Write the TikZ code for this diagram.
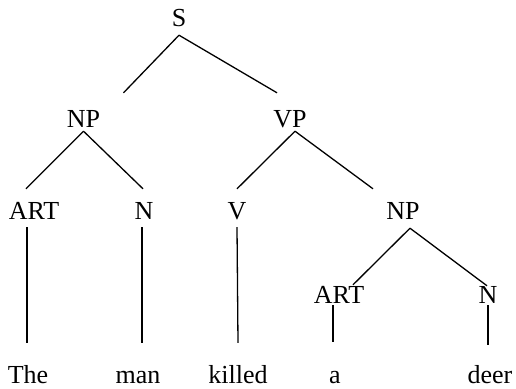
\documentclass[tikz,border=0pt]{standalone}
\usepackage{fontspec}
\setmainfont{Liberation Serif}
\usetikzlibrary{positioning}

\begin{document}
\begin{tikzpicture}[
    x=1pt, y=-1pt,
    cat/.style={inner sep=0pt, anchor=base, text height=17pt, text depth=0pt, font=\fontsize{26}{31}\selectfont},
    word/.style={cat},
    branch/.style={line width=1.3pt},
]
\useasboundingbox (0,0) rectangle (516,388);

% Nodes
\node[cat] (s) at (179,26) {S};
\node[cat] (np) at (83.5,127) {NP};
\node[cat] (vp) at (290,127) {VP};
\node[cat] (art) at (34,219) {ART};
\node[cat] (n) at (144,219) {N};
\node[cat] (v) at (237,219) {V};
\node[cat] (np2) at (403,219) {NP};
\node[cat] (art2) at (339,303) {ART};
\node[cat] (n2) at (488,303) {N};

% Words
\node[word] (the) at (28,383) {The};
\node[word] (man) at (138,383) {man};
\node[word] (killed) at (238,383) {killed};
\node[word] (a) at (335,383) {a};
\node[word] (deer) at (490,383) {deer};

% Branches
\draw[branch] ([yshift=-9pt]s.south) -- ([xshift=40pt,yshift=17pt]np.north);
\draw[branch] ([yshift=-9pt]s.south) -- ([xshift=-13pt,yshift=17pt]vp.north);
\draw[branch] ([yshift=-4pt]np.south) -- ([xshift=-8pt,yshift=13pt]art.north);
\draw[branch] ([yshift=-4pt]np.south) -- ([xshift=-1pt,yshift=13pt]n.north);
\draw[branch] ([xshift=5pt,yshift=-4pt]vp.south) -- ([yshift=13pt]v.north);
\draw[branch] ([xshift=5pt,yshift=-4pt]vp.south) -- ([xshift=-30pt,yshift=13pt]np2.north);
\draw[branch] ([xshift=7pt,yshift=-9pt]np2.south) -- ([xshift=14pt,yshift=1pt]art2.north);
\draw[branch] ([xshift=7pt,yshift=-9pt]np2.south) -- ([xshift=-1pt]n2.north);

% Leaves
\draw[branch] ([xshift=-7pt,yshift=-8pt]art.south) -- ([xshift=-1pt,yshift=23pt]the.north);
\draw[branch] ([xshift=-2pt,yshift=-8pt]n.south) -- ([xshift=4pt,yshift=23pt]man.north);
\draw[branch] ([yshift=-8pt]v.south) -- ([yshift=23pt]killed.north);
\draw[branch] ([xshift=-6pt,yshift=-2pt]art2.south) -- ([xshift=-2pt,yshift=24pt]a.north);
\draw[branch] ([yshift=-2pt]n2.south) -- ([xshift=-2pt,yshift=21pt]deer.north);

\end{tikzpicture}
\end{document}
